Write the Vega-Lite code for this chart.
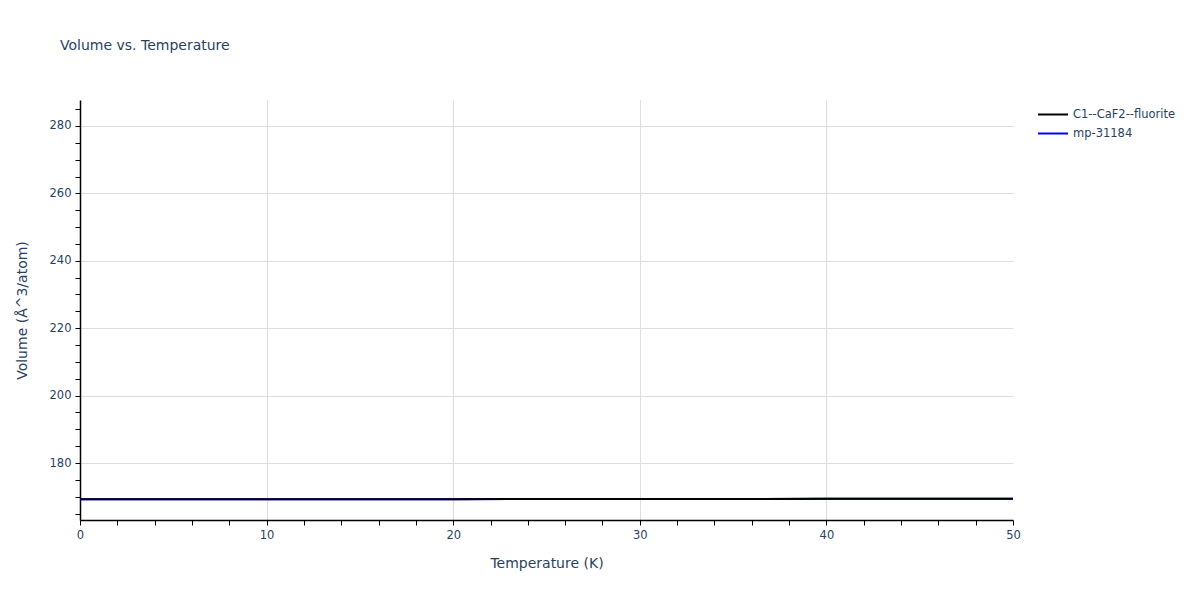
{
  "$schema": "https://vega.github.io/schema/vega-lite/v6.json",
  "width": 933,
  "height": 420,
  "autosize": {"type": "none"},
  "padding": {"left": 80, "top": 100, "right": 187, "bottom": 80},
  "background": "white",
  "title": {
    "text": "Volume vs. Temperature",
    "anchor": "start",
    "frame": "group",
    "dx": -20,
    "offset": 47,
    "font": "DejaVu Sans",
    "fontSize": 14,
    "fontWeight": "normal",
    "color": "#2a3f5f"
  },
  "config": {
    "view": {"stroke": null},
    "font": "DejaVu Sans"
  },
  "data": {
    "values": [
      {"T": 0, "V": 169.25, "s": "mp-31184"},
      {"T": 5, "V": 169.25, "s": "mp-31184"},
      {"T": 10, "V": 169.26, "s": "mp-31184"},
      {"T": 15, "V": 169.27, "s": "mp-31184"},
      {"T": 20, "V": 169.29, "s": "mp-31184"},
      {"T": 25, "V": 169.31, "s": "mp-31184"},
      {"T": 30, "V": 169.33, "s": "mp-31184"},
      {"T": 35, "V": 169.35, "s": "mp-31184"},
      {"T": 40, "V": 169.38, "s": "mp-31184"},
      {"T": 45, "V": 169.40, "s": "mp-31184"},
      {"T": 50, "V": 169.43, "s": "mp-31184"},
      {"T": 0, "V": 169.25, "s": "C1--CaF2--fluorite"},
      {"T": 5, "V": 169.25, "s": "C1--CaF2--fluorite"},
      {"T": 10, "V": 169.26, "s": "C1--CaF2--fluorite"},
      {"T": 15, "V": 169.27, "s": "C1--CaF2--fluorite"},
      {"T": 20, "V": 169.29, "s": "C1--CaF2--fluorite"},
      {"T": 25, "V": 169.31, "s": "C1--CaF2--fluorite"},
      {"T": 30, "V": 169.33, "s": "C1--CaF2--fluorite"},
      {"T": 35, "V": 169.35, "s": "C1--CaF2--fluorite"},
      {"T": 40, "V": 169.38, "s": "C1--CaF2--fluorite"},
      {"T": 45, "V": 169.40, "s": "C1--CaF2--fluorite"},
      {"T": 50, "V": 169.43, "s": "C1--CaF2--fluorite"}
    ]
  },
  "mark": {"type": "line", "strokeWidth": 2, "clip": true},
  "encoding": {
    "x": {
      "field": "T",
      "type": "quantitative",
      "scale": {"domain": [0, 50], "nice": false, "zero": false},
      "axis": {
        "title": "Temperature (K)",
        "values": [0,2,4,6,8,10,12,14,16,18,20,22,24,26,28,30,32,34,36,38,40,42,44,46,48,50],
        "labelExpr": "datum.value % 10 === 0 ? datum.label : ''",
        "labelFont": "DejaVu Sans",
        "labelFontSize": 11.5,
        "labelColor": "#2a3f5f",
        "labelPadding": 4,
        "titleFont": "DejaVu Sans",
        "titleFontSize": 14,
        "titleFontWeight": "normal",
        "titleColor": "#2a3f5f",
        "titlePadding": 16,
        "domainColor": "#000000",
        "domainWidth": 1.5,
        "tickColor": "#000000",
        "tickSize": 5,
        "labelFlush": false,
        "labelOverlap": false,
        "grid": true,
        "gridColor": "#dddddd",
        "gridOpacity": {"condition": {"test": "datum.value % 10 === 0 && datum.value > 0 && datum.value < 50", "value": 1}, "value": 0}
      }
    },
    "y": {
      "field": "V",
      "type": "quantitative",
      "scale": {"domain": [163.1, 287.7], "nice": false, "zero": false},
      "axis": {
        "title": "Volume (Å^3/atom)",
        "values": [165,170,175,180,185,190,195,200,205,210,215,220,225,230,235,240,245,250,255,260,265,270,275,280,285],
        "labelExpr": "datum.value % 20 === 0 ? datum.label : ''",
        "labelFont": "DejaVu Sans",
        "labelFontSize": 11.5,
        "labelColor": "#2a3f5f",
        "labelPadding": 4,
        "titleFont": "DejaVu Sans",
        "titleFontSize": 14,
        "titleFontWeight": "normal",
        "titleColor": "#2a3f5f",
        "titlePadding": 20,
        "domainColor": "#000000",
        "domainWidth": 1.5,
        "tickColor": "#000000",
        "tickSize": 5,
        "labelOverlap": false,
        "grid": true,
        "gridColor": "#dddddd",
        "gridOpacity": {"condition": {"test": "datum.value % 20 === 0", "value": 1}, "value": 0}
      }
    },
    "color": {
      "field": "s",
      "type": "nominal",
      "scale": {"domain": ["C1--CaF2--fluorite", "mp-31184"], "range": ["#000000", "#0000ff"]},
      "legend": {
        "title": null,
        "orient": "none",
        "legendX": 957,
        "legendY": 5,
        "symbolType": "stroke",
        "symbolSize": 900,
        "symbolStrokeWidth": 2,
        "labelFont": "DejaVu Sans",
        "labelFontSize": 11.5,
        "labelColor": "#2a3f5f",
        "clipHeight": 19,
        "rowPadding": 0
      }
    }
  }
}
